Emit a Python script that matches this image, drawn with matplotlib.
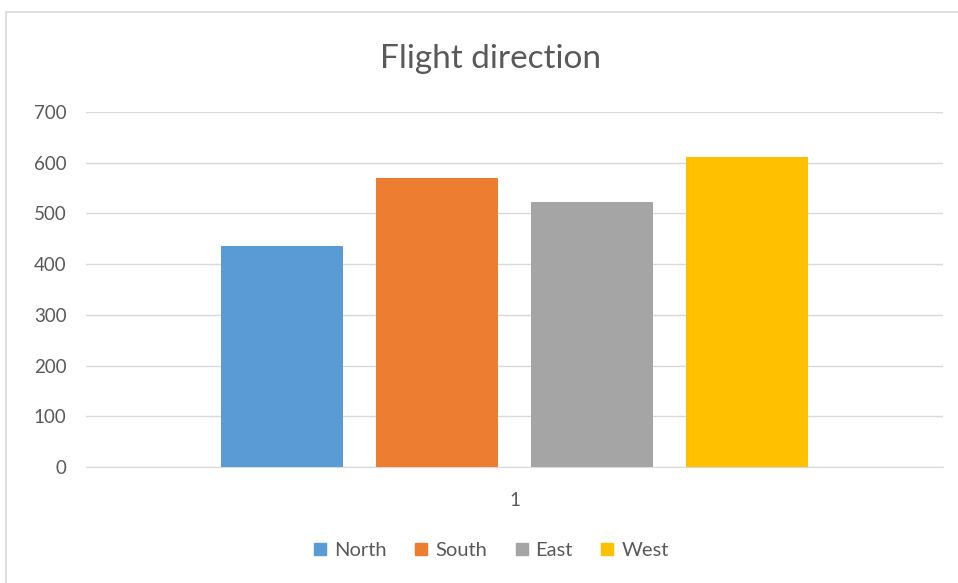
import matplotlib.pyplot as plt
from matplotlib.patches import Rectangle

plt.rcParams['font.family'] = ['Lato', 'DejaVu Sans']

directions = ['North', 'South', 'East', 'West']
flights = [436, 569, 523, 611]
colors = ['#5b9bd5', '#ed7d31', '#a5a5a5', '#ffc000']
group_labels = ['1']

text_color = '#595959'
grid_color = '#d9d9d9'

fig = plt.figure(figsize=(9.58, 5.83), dpi=100)
ax = fig.add_axes([0.0898, 0.199, 0.8946, 0.609])

# chart border
fig.patches.append(Rectangle((0.006, -0.1), 1.1, 1.079, transform=fig.transFigure,
                             fill=False, edgecolor='#d9d9d9', linewidth=1.2))

width = 0.1424
step = 0.181
for i, (name, val, col) in enumerate(zip(directions, flights, colors)):
    ax.bar(1 + (i - 1.5) * step, val, width=width, color=col, label=name, zorder=3)

ax.set_xlim(0.5, 1.5)
ax.set_ylim(0, 700)
ax.set_yticks(range(0, 701, 100))
ax.set_xticks([1])
ax.set_xticklabels(group_labels)
ax.yaxis.grid(True, color=grid_color, linewidth=1, zorder=0)
ax.tick_params(length=0, labelsize=13.5, colors=text_color)
ax.tick_params(axis='y', pad=14)
ax.tick_params(axis='x', pad=18)
for side in ['top', 'right', 'left']:
    ax.spines[side].set_visible(False)
ax.spines['bottom'].set_color(grid_color)

fig.text(0.512, 0.898, 'Flight direction', ha='center', va='center',
         fontsize=24, color=text_color)

handles = [plt.Line2D([], [], marker='s', linestyle='', markersize=8,
                      markerfacecolor=c, markeredgecolor=c) for c in colors]
fig.legend(handles, directions, loc='center', bbox_to_anchor=(0.512, 0.055),
           ncol=4, frameon=False, fontsize=14.5, labelcolor=text_color,
           handletextpad=0.3, columnspacing=1.3, handlelength=0.8)

plt.savefig('out.png')
